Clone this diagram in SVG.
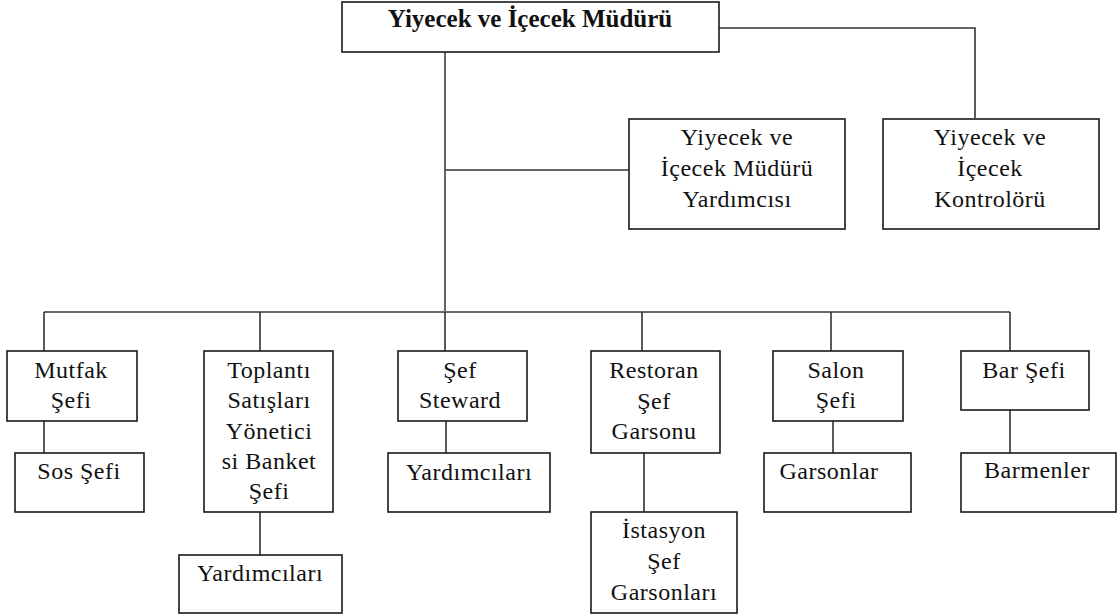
<svg xmlns="http://www.w3.org/2000/svg" width="1117" height="615" viewBox="0 0 1117 615">
<style>
.box{fill:#fff;stroke:#1a1a1a;stroke-width:1.6}
.t{font-family:"Liberation Serif","Times New Roman",serif;font-size:24px;letter-spacing:0.5px;fill:#111;text-anchor:middle}
.title{font-family:"Liberation Serif","Times New Roman",serif;font-size:25px;font-weight:bold;fill:#111;text-anchor:middle}
.c{fill:none;stroke:#333;stroke-width:1.6}
.g{fill:none;stroke:#666;stroke-width:2}
</style>
<rect width="1117" height="615" fill="#fff"/>
<g id="connectors">
<path class="g" d="M445 52V312"/>
<path class="c" d="M445 170H629"/>
<path class="c" d="M719 28H975V118"/>
<path class="g" d="M44 312H1010"/>
<path class="c" d="M44 312V351M260 312V351M445 312V351M642 312V351M831 312V351M1010 312V351"/>
<path class="c" d="M44 421V453M260 512V555M446 421V453M644 453V512M833 421V453M1010 410V453"/>
</g>
<g id="mudur"><rect class="box" x="342" y="2" width="377" height="50"/><text class="title" x="530" y="27">Yiyecek ve İçecek Müdürü</text></g>
<g id="yardimci"><rect class="box" x="629" y="119" width="216" height="110"/><text class="t" x="737" y="145">Yiyecek ve</text><text class="t" x="737" y="176">İçecek Müdürü</text><text class="t" x="737" y="207">Yardımcısı</text></g>
<g id="kontrolor"><rect class="box" x="883" y="119" width="216" height="110"/><text class="t" x="990" y="145">Yiyecek ve</text><text class="t" x="990" y="176">İçecek</text><text class="t" x="990" y="207">Kontrolörü</text></g>
<g id="mutfak"><rect class="box" x="7" y="351" width="130" height="70"/><text class="t" x="71" y="378">Mutfak</text><text class="t" x="71" y="408">Şefi</text></g>
<g id="sos"><rect class="box" x="15" y="453" width="129" height="59"/><text class="t" x="79" y="479">Sos Şefi</text></g>
<g id="toplanti"><rect class="box" x="204" y="351" width="129" height="161"/><text class="t" x="269" y="378">Toplantı</text><text class="t" x="269" y="408">Satışları</text><text class="t" x="269" y="439">Yönetici</text><text class="t" x="269" y="469">si Banket</text><text class="t" x="269" y="499">Şefi</text></g>
<g id="yardimcilari1"><rect class="box" x="179" y="555" width="163" height="58"/><text class="t" x="260" y="581">Yardımcıları</text></g>
<g id="steward"><rect class="box" x="398" y="351" width="129" height="70"/><text class="t" x="460" y="378">Şef</text><text class="t" x="460" y="408">Steward</text></g>
<g id="yardimcilari2"><rect class="box" x="388" y="453" width="162" height="59"/><text class="t" x="469" y="480">Yardımcıları</text></g>
<g id="restoran"><rect class="box" x="591" y="351" width="129" height="102"/><text class="t" x="654" y="378">Restoran</text><text class="t" x="654" y="409">Şef</text><text class="t" x="654" y="439">Garsonu</text></g>
<g id="istasyon"><rect class="box" x="591" y="512" width="146" height="101"/><text class="t" x="664" y="538">İstasyon</text><text class="t" x="664" y="569">Şef</text><text class="t" x="664" y="600">Garsonları</text></g>
<g id="salon"><rect class="box" x="773" y="351" width="130" height="70"/><text class="t" x="836" y="378">Salon</text><text class="t" x="836" y="408">Şefi</text></g>
<g id="garsonlar"><rect class="box" x="764" y="453" width="147" height="59"/><text class="t" x="829" y="479">Garsonlar</text></g>
<g id="bar"><rect class="box" x="961" y="351" width="128" height="59"/><text class="t" x="1024" y="378">Bar Şefi</text></g>
<g id="barmenler"><rect class="box" x="961" y="453" width="155" height="59"/><text class="t" x="1037" y="478">Barmenler</text></g>
</svg>
